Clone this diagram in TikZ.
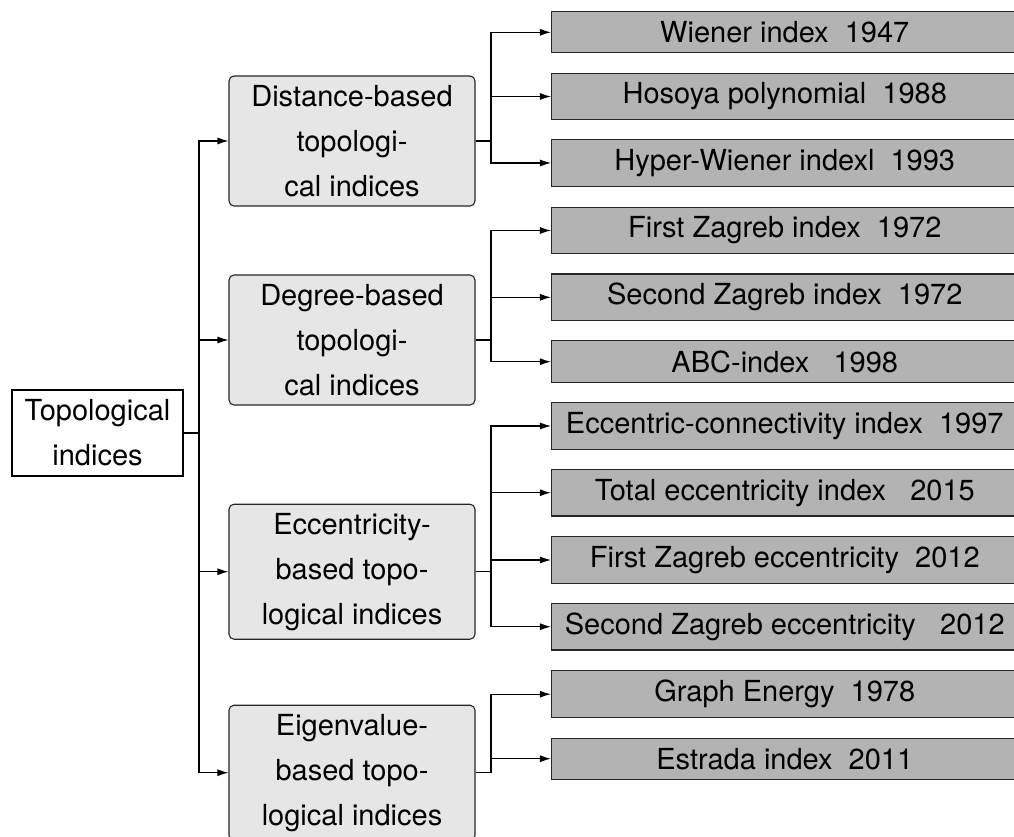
\documentclass[tikz,border=0pt]{standalone}
\usepackage{fontspec}
\setmainfont{TeX Gyre Heros}
\usetikzlibrary{arrows.meta}
\definecolor{midfill}{HTML}{E6E6E6}
\definecolor{leaffill}{HTML}{B3B3B3}
\begin{document}
\begin{tikzpicture}[x=1pt,y=-1pt,
  txt/.style={font={\fontsize{29}{45}\selectfont}},
  rootbox/.style={txt,draw=black,line width=1.1pt,fill=white,minimum width=171,minimum height=86,inner sep=0pt,align=center},
  midbox/.style={txt,draw=black!85,line width=1.1pt,fill=midfill,rounded corners=5pt,minimum width=246,inner sep=0pt,align=center},
  leafbox/.style={txt,draw=black!85,line width=1.1pt,fill=leaffill,minimum width=466.5,inner sep=0pt},
  conn/.style={line width=1.1pt,draw=black},
  arr/.style={conn,-{Latex[length=11pt,width=7pt]}}
]
\clip (0,0) rectangle (1014,836);
\fill[white] (0,0) rectangle (1014,836);

% root
\node[rootbox] (root) at (97.5,433) {Topological\\indices};

% middle boxes
\node[midbox,minimum height=130] (dist) at (352,141) {Distance-based\\topologi-\\cal indices};
\node[midbox,minimum height=130] (deg) at (352,340) {Degree-based\\topologi-\\cal indices};
\node[midbox,minimum height=135] (ecc) at (352,571.7) {Eccentricity-\\based topo-\\logical indices};
\node[midbox,minimum height=135] (eig) at (352,772.7) {Eigenvalue-\\based topo-\\logical indices};

% leaves
\node[leafbox,minimum height=41] (l1) at (784.75,32.3) {Wiener index~~1947};
\node[leafbox,minimum height=46.5] (l2) at (784.75,96.5) {Hosoya polynomial~~1988};
\node[leafbox,minimum height=47] (l3) at (784.75,163) {Hyper-Wiener indexl~~1993};
\node[leafbox,minimum height=46.6] (l4) at (784.75,230.5) {First Zagreb index~~1972};
\node[leafbox,minimum height=46.6] (l5) at (784.75,297.3) {Second Zagreb index~~1972};
\node[leafbox,minimum height=42] (l6) at (784.75,361.7) {ABC-index~~~1998};
\node[leafbox,minimum height=46.6] (l7) at (784.75,426) {Eccentric-connectivity index~~1997};
\node[leafbox,minimum height=46.6] (l8) at (784.75,492.7) {Total eccentricity index~~~2015};
\node[leafbox,minimum height=46.6] (l9) at (784.75,560) {First Zagreb eccentricity~~2012};
\node[leafbox,minimum height=46.6] (l10) at (784.75,626.7) {Second Zagreb eccentricity~~~2012};
\node[leafbox,minimum height=47] (l11) at (784.75,694.2) {Graph Energy~~1978};
\node[leafbox,minimum height=41] (l12) at (784.75,758.7) {Estrada index~~2011};

% trunk / branch x positions
\coordinate (tx) at (199,0);
\coordinate (bx) at (491,0);

% root to middle boxes
\foreach \m in {dist,deg,ecc,eig}
  \draw[arr] (root.east) -- (tx |- root.east) |- (\m.west);

% middle boxes to leaves
\foreach \l in {l1,l2,l3}
  \draw[arr] (dist.east) -- (bx |- dist.east) |- (\l.west);
\foreach \l in {l4,l5,l6}
  \draw[arr] (deg.east) -- (bx |- deg.east) |- (\l.west);
\foreach \l in {l7,l8,l9,l10}
  \draw[arr] (ecc.east) -- (bx |- ecc.east) |- (\l.west);
\foreach \l in {l11,l12}
  \draw[arr] (eig.east) -- (bx |- eig.east) |- (\l.west);
\end{tikzpicture}
\end{document}
